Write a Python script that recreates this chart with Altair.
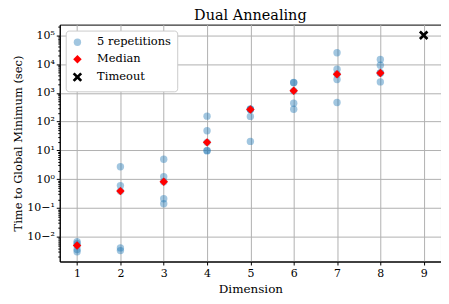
import altair as alt
import pandas as pd

dims = [1, 2, 3, 4, 5, 6, 7, 8]
run_1 = [0.0068, 2.7, 4.9, 155, 275, 2300, 24700, 14500]
run_2 = [0.0058, 0.6, 1.23, 48, 265, 2250, 6600, 9100]
run_3 = [0.0050, 0.385, 0.81, 19, 265, 1170, 4400, 4900]
run_4 = [0.0036, 0.0041, 0.21, 10, 152, 435, 2900, 4900]
run_5 = [0.0030, 0.0033, 0.14, 9.6, 20.5, 270, 460, 2400]
medians = [0.005, 0.385, 0.81, 19, 265, 1170, 4400, 4900]
timeout_dims = [9]
timeout_vals = [100000]

kinds = ["5 repetitions", "Median", "Timeout"]
x_ticks = [1, 2, 3, 4, 5, 6, 7, 8, 9]
y_ticks = [1e-2, 1e-1, 1e0, 1e1, 1e2, 1e3, 1e4, 1e5]
y_minor = [m * 10 ** e for e in range(-3, 6) for m in range(2, 10)]
y_minor = [v for v in y_minor if 10 ** -2.86 <= v <= 10 ** 5.37]

rows = []
for run in (run_1, run_2, run_3, run_4, run_5):
    for d, v in zip(dims, run):
        rows.append({"dim": d, "t": v, "kind": kinds[0]})
for d, v in zip(dims, medians):
    rows.append({"dim": d, "t": v, "kind": kinds[1]})
for d, v in zip(timeout_dims, timeout_vals):
    rows.append({"dim": d, "t": v, "kind": kinds[2]})
df = pd.DataFrame(rows)

FONT = "DejaVu Serif"
yscale = alt.Scale(type="log", domain=[10 ** -2.86, 10 ** 5.37], nice=False)
xscale = alt.Scale(domain=[0.6, 9.4], nice=False, zero=False)
label_expr = ("'10' + replace(replace(replace(replace(replace(replace(replace(replace("
              "format(log(datum.value)/log(10), '.0f'),"
              "'-', '⁻'), '0', '⁰'), '1', '¹'), '2', '²'), '3', '³'), '4', '⁴'), '5', '⁵'), '6', '⁶')")

SHAPE_X = "M-1,-0.6L-0.6,-1L0,-0.4L0.6,-1L1,-0.6L0.4,0L1,0.6L0.6,1L0,0.4L-0.6,1L-1,0.6L-0.4,0Z"

x_axis = alt.Axis(values=x_ticks, title="Dimension", format="d", grid=True,
                  gridColor="#b0b0b0", gridWidth=1, domainColor="black",
                  tickColor="black", tickSize=3.5, labelFontSize=11,
                  titleFontSize=12, labelFont=FONT, titleFont=FONT,
                  labelColor="black", titleColor="black", titleFontWeight="normal",
                  labelPadding=3, titlePadding=5)
y_axis = alt.Axis(values=y_ticks, labelExpr=label_expr,
                  title="Time to Global Minimum (sec)", grid=True,
                  gridColor="#b0b0b0", gridWidth=1, domainColor="black",
                  tickColor="black", tickSize=3.5, labelFontSize=11,
                  titleFontSize=11.5, labelFont=FONT, titleFont=FONT,
                  labelColor="black", titleColor="black",
                  titleFontWeight="normal", labelPadding=2, titlePadding=3)

common = dict(
    color=alt.Color("kind:N",
                    scale=alt.Scale(domain=kinds,
                                    range=["rgba(31,119,180,0.42)", "#ff0000", "#000000"]),
                    legend=alt.Legend(title=None, orient="top-left", offset=6,
                                      labelFont=FONT, labelFontSize=11.5, labelColor="black",
                                      strokeColor="#cccccc", fillColor="white", padding=6,
                                      cornerRadius=3, rowPadding=2, symbolSize=60,
                                      symbolOpacity=1, labelOffset=14)),
    shape=alt.Shape("kind:N", scale=alt.Scale(domain=kinds, range=["circle", "diamond", SHAPE_X])),
    size=alt.Size("kind:N", scale=alt.Scale(domain=kinds, range=[55, 90, 80])),
)

base = alt.Chart(df).mark_point(filled=True, strokeWidth=0, opacity=1)
layers = []
for i, k in enumerate(kinds):
    ax_y = y_axis if i == 0 else None
    layers.append(base.transform_filter(alt.datum.kind == k).encode(
        x=alt.X("dim:Q", scale=xscale, axis=x_axis),
        y=alt.Y("t:Q", scale=yscale, axis=ax_y),
        **common))

minor = alt.Chart(df).mark_point(opacity=0).encode(
    x=alt.X("dim:Q", scale=xscale, axis=x_axis),
    y=alt.Y("t:Q", scale=yscale,
            axis=alt.Axis(values=y_minor, labels=False, grid=False, domain=False,
                          tickColor="black", tickSize=2, orient="left", title=None)),
)

chart = alt.layer(*layers, minor).resolve_axis(y="independent").properties(
    width=383, height=238,
    title=alt.TitleParams("Dual Annealing", font=FONT, fontSize=14.5, fontWeight="normal",
                          color="black", offset=1),
    autosize=alt.AutoSizeParams(type="none"),
    padding={"left": 52, "top": 16, "right": 0, "bottom": 40},
).configure_view(stroke="black", strokeWidth=1)

chart.save("out.html", embed_options={"renderer": "svg", "actions": False})
